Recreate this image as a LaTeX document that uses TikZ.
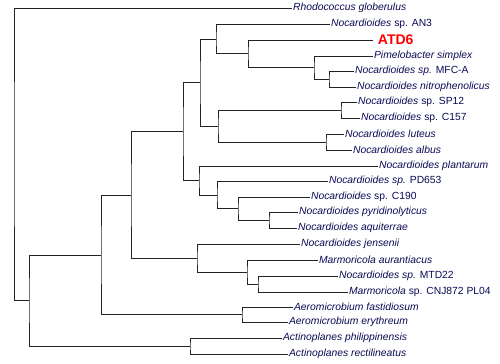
\documentclass[tikz,border=0pt]{standalone}
\usepackage{fontspec}
\setmainfont{Liberation Sans}
\definecolor{txt}{RGB}{10,10,85}
\definecolor{br}{RGB}{35,35,35}
\begin{document}
\begin{tikzpicture}[x=0.75pt,y=-0.75pt,
  leaf/.style={anchor=west,inner xsep=0.6pt,inner ysep=0pt,text=txt,font=\fontsize{7.75}{9}\selectfont\itshape},
  red6/.style={anchor=west,inner xsep=3.5pt,inner ysep=0pt,text=red,font=\fontsize{10.5}{12}\selectfont\bfseries},
  branch/.style={draw=br,line width=0.75pt}]
\useasboundingbox (0,0) rectangle (500,364);
% leaves
\node[leaf] (l1) at (292,8) {Rhodococcus globerulus};
\node[leaf] (l2) at (330,24) {Nocardioides \upshape sp. AN3};
\node[red6] (l3) at (373,40) {ATD6};
\node[leaf] (l4) at (373,56) {Pimelobacter simplex};
\node[leaf] (l5) at (354,71) {Nocardioides sp. \upshape MFC-A};
\node[leaf] (l6) at (356,87) {Nocardioides nitrophenolicus};
\node[leaf] (l7) at (357,102) {Nocardioides \upshape sp. SP12};
\node[leaf] (l8) at (360,118) {Nocardioides \upshape sp. C157};
\node[leaf] (l9) at (344,134) {Nocardioides luteus};
\node[leaf] (l10) at (352,150) {Nocardioides albus};
\node[leaf] (l11) at (378,166) {Nocardioides plantarum};
\node[leaf] (l12) at (328,181) {Nocardioides sp. \upshape PD653};
\node[leaf] (l13) at (310,197) {Nocardioides \upshape sp. C190};
\node[leaf] (l14) at (298,212) {Nocardioides pyridinolyticus};
\node[leaf] (l15) at (297,228) {Nocardioides aquiterrae};
\node[leaf] (l16) at (300,244) {Nocardioides jensenii};
\node[leaf] (l17) at (318,260) {Marmoricola aurantiacus};
\node[leaf] (l18) at (338,276) {Nocardioides sp. \upshape MTD22};
\node[leaf] (l19) at (348,292) {Marmoricola \upshape sp. CNJ872 PL04};
\node[leaf] (l20) at (293,307) {Aeromicrobium fastidiosum};
\node[leaf] (l21) at (288,322) {Aeromicrobium erythreum};
\node[leaf] (l22) at (282,338) {Actinoplanes philippinensis};
\node[leaf] (l23) at (288,354) {Actinoplanes rectilineatus};
% internal nodes
\coordinate (L) at (329,79);
\coordinate (K) at (314,67.5);
\coordinate (J) at (248,53.5);
\coordinate (I) at (216,39);
\coordinate (N) at (341,110);
\coordinate (O) at (326,142);
\coordinate (M) at (218,126);
\coordinate (H) at (200,82.5);
\coordinate (S) at (269,220);
\coordinate (R) at (238,208.5);
\coordinate (Q) at (217,195);
\coordinate (P) at (199,180.5);
\coordinate (G) at (183,131.5);
\coordinate (F) at (258,284);
\coordinate (E) at (247,272);
\coordinate (D) at (197,258);
\coordinate (C) at (131,195);
\coordinate (Ae) at (242,314.5);
\coordinate (B) at (101,255);
\coordinate (Ac) at (190,346);
\coordinate (A) at (29,300);
\coordinate (Rt) at (14,154);
% branches
\draw[branch] (l5.west) -| (L) |- (l6.west);
\draw[branch] (l4.west) -| (K) |- (L);
\draw[branch] (l3.west) -| (J) |- (K);
\draw[branch] (l2.west) -| (I) |- (J);
\draw[branch] (l7.west) -| (N) |- (l8.west);
\draw[branch] (l9.west) -| (O) |- (l10.west);
\draw[branch] (N) -| (M) |- (O);
\draw[branch] (I) -| (H) |- (M);
\draw[branch] (l14.west) -| (S) |- (l15.west);
\draw[branch] (l13.west) -| (R) |- (S);
\draw[branch] (l12.west) -| (Q) |- (R);
\draw[branch] (l11.west) -| (P) |- (Q);
\draw[branch] (H) -| (G) |- (P);
\draw[branch] (l18.west) -| (F) |- (l19.west);
\draw[branch] (l17.west) -| (E) |- (F);
\draw[branch] (l16.west) -| (D) |- (E);
\draw[branch] (G) -| (C) |- (D);
\draw[branch] (l20.west) -| (Ae) |- (l21.west);
\draw[branch] (C) -| (B) |- (Ae);
\draw[branch] (l22.west) -| (Ac) |- (l23.west);
\draw[branch] (B) -| (A) |- (Ac);
\draw[branch] (l1.west) -| (Rt) |- (A);
\end{tikzpicture}
\end{document}
